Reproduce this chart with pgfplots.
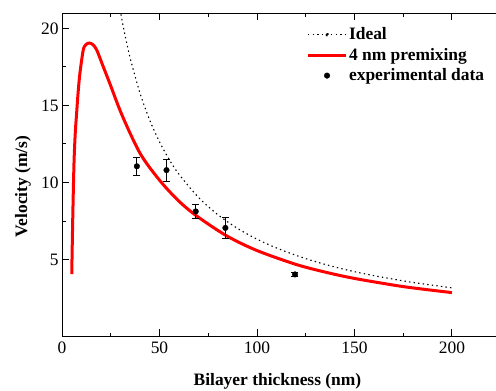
\documentclass[border=0pt]{standalone}
\usepackage{fontspec}
\setmainfont{Liberation Serif}
\usepackage{pgfplots}
\pgfplotsset{compat=1.18}
\begin{document}
\begin{tikzpicture}
\begin{axis}[
  scale only axis,
  width=434bp, height=323.5bp,
  xmin=0, xmax=222.6, ymin=0, ymax=21,
  axis x line*=box, axis y line*=left,
  axis line style={line width=0.9bp},
  xtick={0,50,100,150,200}, ytick={5,10,15,20},
  minor x tick num=1, minor y tick num=1,
  tick align=inside,
  major tick length=7bp, minor tick length=4bp,
  every tick/.style={black, line width=0.9bp},
  tick label style={font=\fontsize{17.5}{21}\selectfont},
  x tick label style={yshift=-2bp},
  /pgf/number format/assume math mode=true,
  xlabel={\bfseries Bilayer thickness (nm)},
  ylabel={\bfseries Velocity (m/s)},
  label style={font=\fontsize{17.5}{21}\selectfont},
  xlabel style={at={(axis description cs:0.4965,-0.138)}, anchor=center},
  ylabel style={at={(axis description cs:-0.09,0.464)}, anchor=center},
  legend style={at={(axis description cs:0.563,0.96)}, anchor=north west,
    draw=none, fill=none, font=\fontsize{17.5}{21}\selectfont\bfseries,
    inner sep=0pt, row sep=4bp, nodes={inner sep=1.5bp}},
  legend cell align=left,
  clip=true,
]
\addplot[black, line width=1.1bp, dash pattern=on 1.4bp off 3.2bp, smooth,
  legend image code/.code={
    \draw[black, line width=1.1bp, dash pattern=on 1.4bp off 3.2bp] (0bp,0bp) -- (38bp,0bp);
    \fill[black] (19bp,0bp) circle (1.4bp);}]
  coordinates {(29,21.79)(30,21.07)(32,19.75)(35,18.06)(40,15.8)(45,14.04)(50,12.64)(55,11.49)(60,10.53)(70,9.03)(80,7.9)(90,7.02)(100,6.32)(110,5.75)(120,5.27)(130,4.86)(140,4.51)(150,4.21)(160,3.95)(170,3.72)(180,3.51)(190,3.33)(200,3.16)};
\addlegendentry{Ideal}
\addplot[red, line width=3bp, smooth,
  legend image code/.code={\draw[red, line width=3bp] (0bp,0bp) -- (38bp,0bp);}]
  coordinates {(5,4.05)(5.5,7.6)(6.15,11.25)(6.8,13.2)(7.5,14.5)(8.3,15.9)(9.2,17.1)(10.9,18.6)(12.3,18.95)(14,19.05)(15.8,18.95)(17.8,18.6)(21.2,17.5)(24.6,16.4)(29.7,14.7)(34.9,13.2)(40,11.9)(45,10.96)(52,9.85)(60,8.78)(69,7.83)(84.5,6.53)(100,5.58)(120,4.68)(135,4.18)(150,3.77)(175,3.24)(200,2.85)};
\addlegendentry{4 nm premixing}
\addplot[only marks, black, mark=*, mark size=2.8bp,
  legend image code/.code={\fill[black] (19bp,0bp) circle (2.8bp);},
  error bars/.cd, y dir=both, y explicit,
  error bar style={line width=0.8bp, black},
  error mark options={rotate=90, mark size=3.5bp, line width=0.8bp, black}]
  coordinates {(38.4,11.05) +- (0,0.6) (53.6,10.8) +- (0,0.7) (68.6,8.12) +- (0,0.44) (83.8,7.05) +- (0,0.7) (119.5,4.03) +- (0,0.15)};
\addlegendentry{experimental data}
\end{axis}
\pgfresetboundingbox
\path[use as bounding box] (-62bp,-54.5bp) rectangle (434bp,336.5bp);
\end{tikzpicture}
\end{document}
